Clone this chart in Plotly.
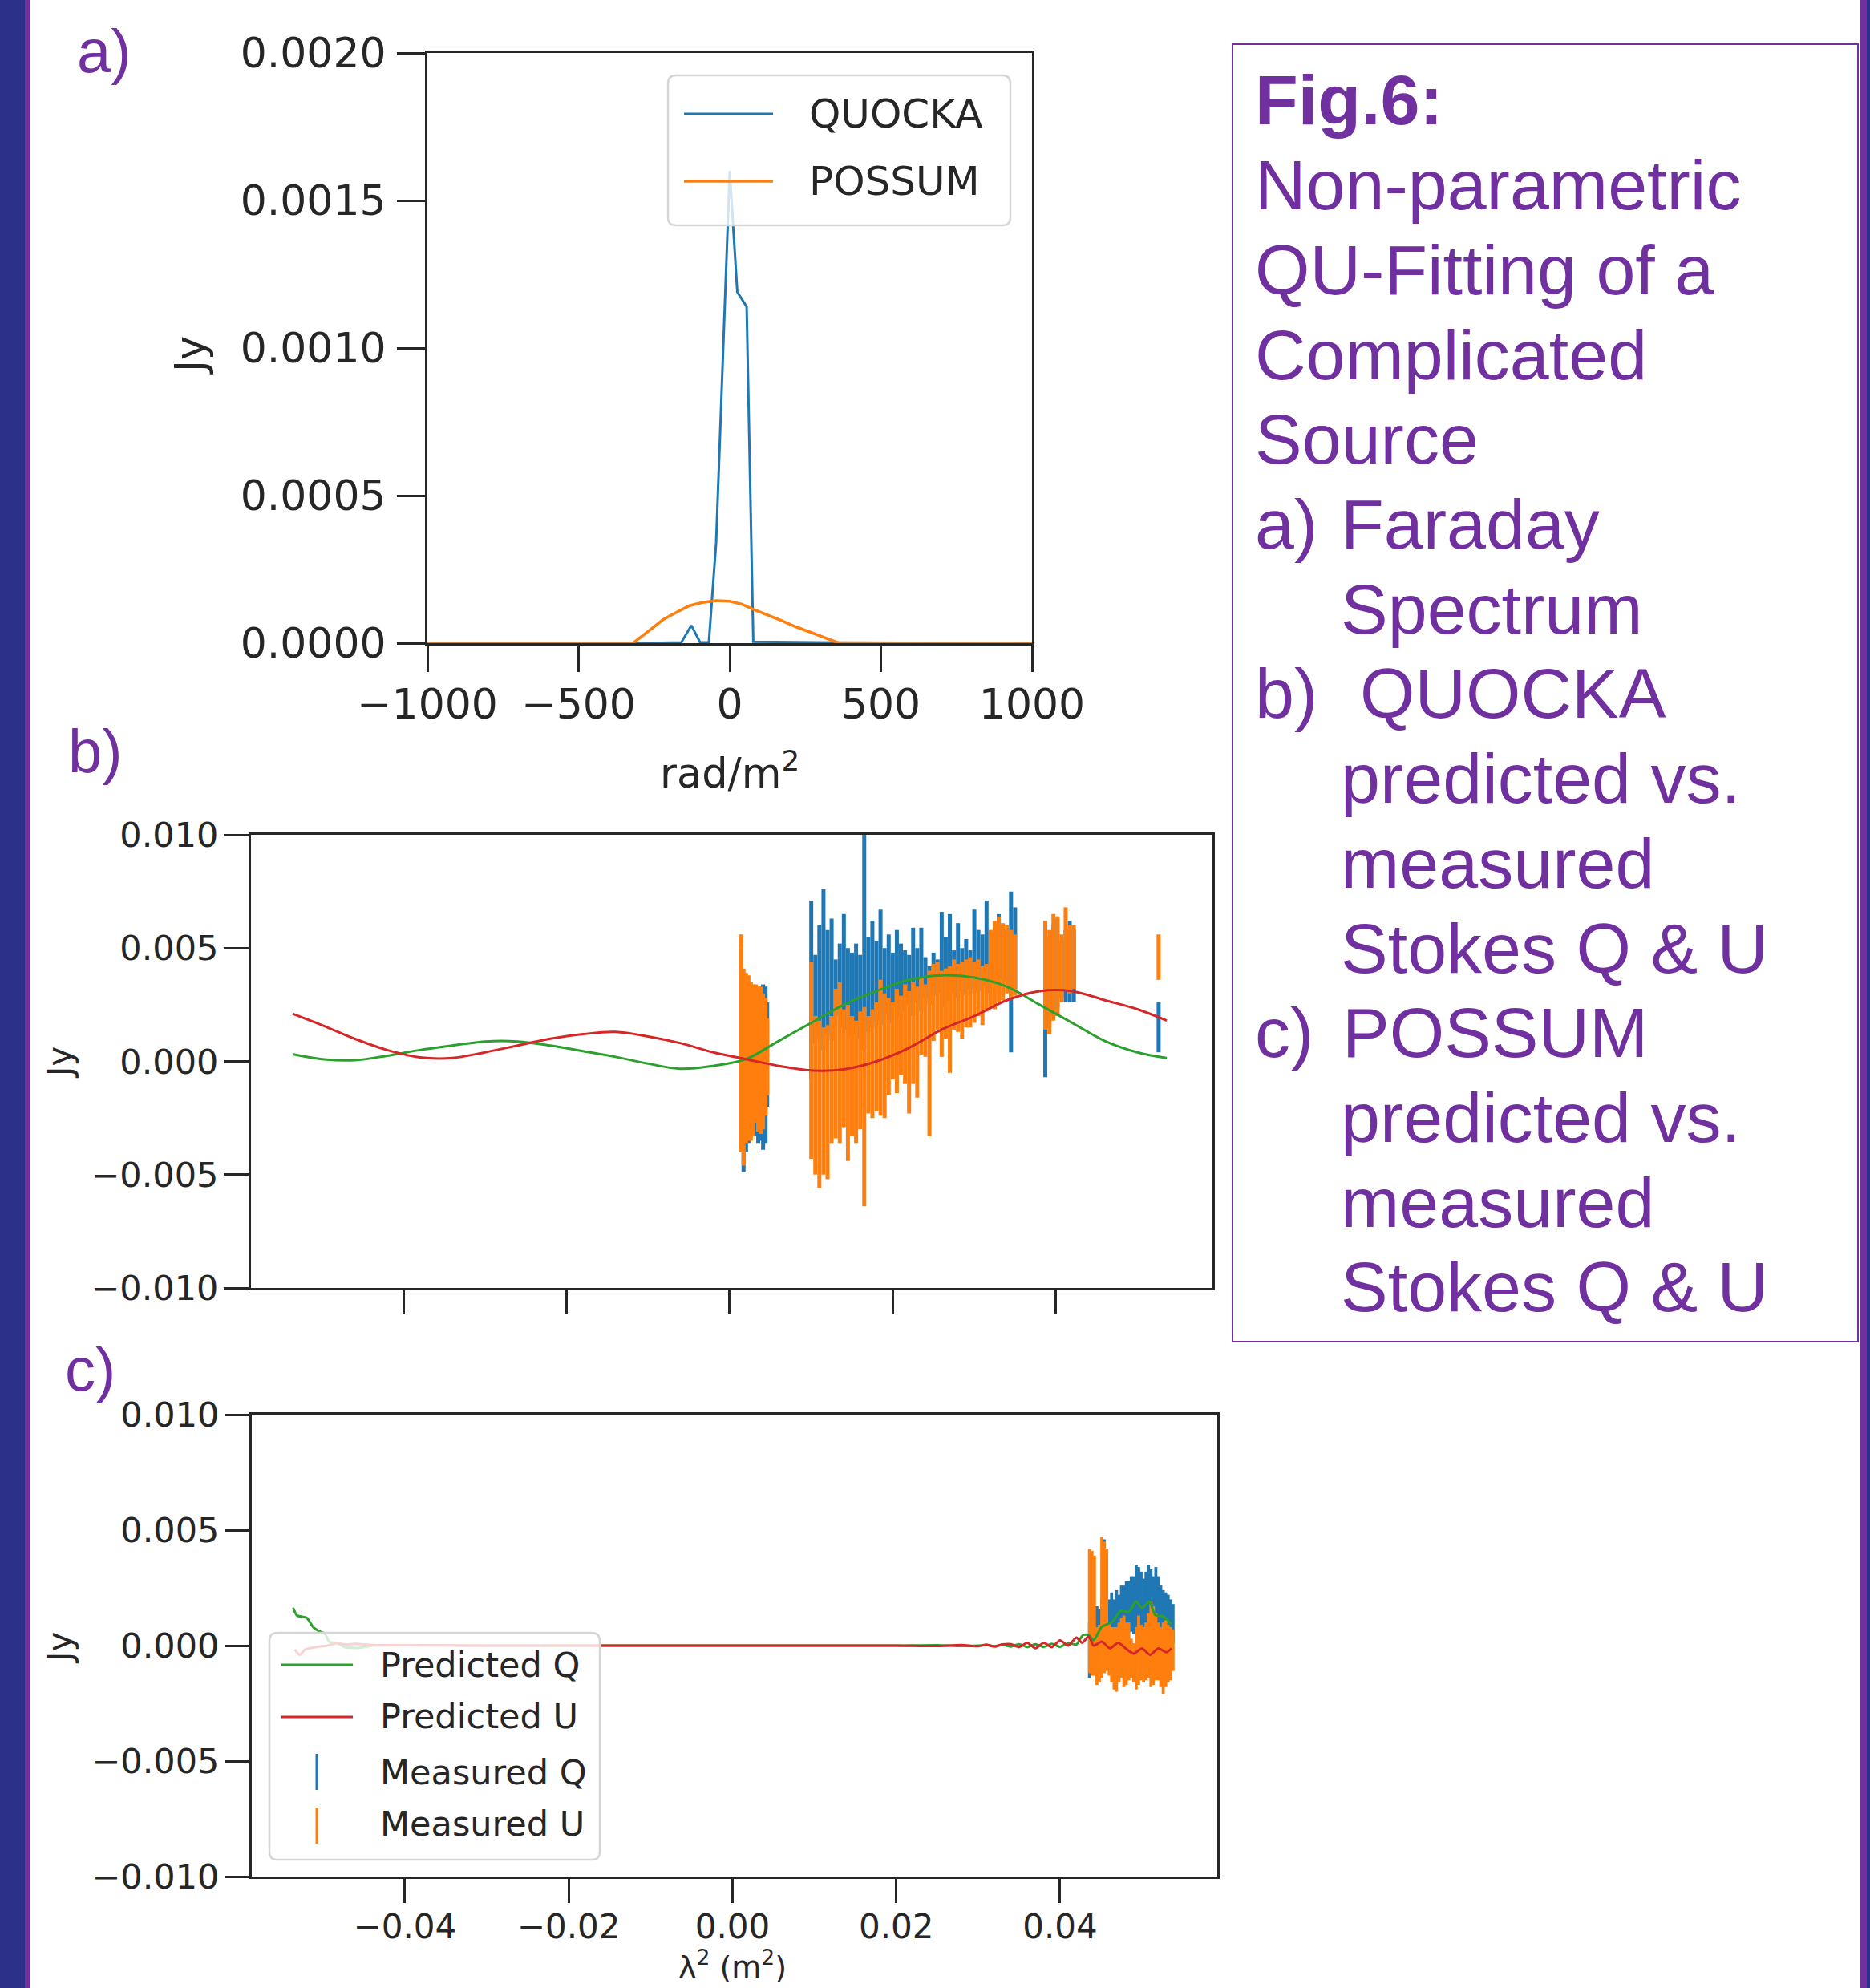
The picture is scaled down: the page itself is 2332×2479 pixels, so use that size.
import plotly.graph_objects as go

W, H = 2332, 2479

# ---------------- DATA ----------------
# Panel a: Faraday spectrum (rad/m^2 vs Jy)
phi_quocka = [-1000, -300, -160, -127, -98, -69, -45, 0, 25, 56, 78, 200, 370, 1000]
amp_quocka = [0, 0, 0.000003, 0.00006, 0.000003, 0.000003, 0.00034, 0.00160,
              0.00119, 0.00114, 0.000005, 0.000004, 0.000002, 0]
phi_possum = [-1000, -320, -270, -220, -170, -133, -90, -45, 0, 40, 80, 120,
              170, 220, 270, 320, 362, 1000]
amp_possum = [0, 0, 0.00004, 0.00008, 0.000108, 0.000127, 0.000138, 0.000144,
              0.000142, 0.000132, 0.000114, 0.000098, 0.000077, 0.000055,
              0.000035, 0.000015, 0, 0]

# Panel b: QUOCKA predicted model (lambda^2 in m^2, values in mJy)
lam2_model_b = [-0.0536, -0.050, -0.046, -0.042, -0.038, -0.034, -0.030, -0.026,
                -0.022, -0.018, -0.014, -0.010, -0.006, -0.002, 0.002, 0.006,
                0.010, 0.014, 0.018, 0.022, 0.026, 0.030, 0.034, 0.038, 0.042,
                0.046, 0.050, 0.0536]
pred_q_b = [0.32, 0.10, 0.05, 0.25, 0.50, 0.70, 0.88, 0.88, 0.70, 0.45, 0.20,
            -0.10, -0.33, -0.20, 0.10, 0.90, 1.70, 2.50, 3.10, 3.60, 3.80, 3.70,
            3.30, 2.50, 1.70, 0.90, 0.40, 0.15]
pred_u_b = [2.10, 1.60, 1.00, 0.50, 0.18, 0.15, 0.40, 0.70, 1.00, 1.20, 1.30,
            1.10, 0.80, 0.40, 0.10, -0.20, -0.40, -0.35, 0.00, 0.60, 1.40, 2.00,
            2.70, 3.10, 3.10, 2.70, 2.30, 1.80]

# Panel b: QUOCKA measured channels (lambda^2) and bar extents (mJy)
lam2_b = [0.0014, 0.0017, 0.0020, 0.0023, 0.0026, 0.0029, 0.0032, 0.0035, 0.0038,
          0.0041, 0.0044, 0.0046,
          0.0100, 0.0105, 0.0110, 0.0115, 0.0120, 0.0125, 0.0130, 0.0135, 0.0140,
          0.0145, 0.0150, 0.0155, 0.0160, 0.0165, 0.0170, 0.0175, 0.0180, 0.0185,
          0.0190, 0.0195, 0.0200, 0.0205, 0.0210, 0.0215, 0.0220, 0.0225, 0.0230,
          0.0235, 0.0240, 0.0245, 0.0250, 0.0255, 0.0260, 0.0265, 0.0270, 0.0275,
          0.0280, 0.0285, 0.0290, 0.0295, 0.0300, 0.0305, 0.0310, 0.0315, 0.0320,
          0.0325, 0.0330, 0.0335, 0.0340, 0.0345, 0.0350,
          0.0387, 0.0392, 0.0397, 0.0402, 0.0407, 0.0412, 0.0417, 0.0422,
          0.0526]
q_lo_b = [-4.0, -4.9, -4.0, -3.6, -3.3, -3.0, -3.3, -3.6, -3.5, -3.9, -3.6, -2.0,
          -0.8, 0.8, 1.0, 0.5, 1.2, 0.9, 2.0, 1.5, 1.4, 1.1, 1.6, 1.2, 1.0, 0.5,
          1.3, 1.5, 1.8, 1.6, 2.1, 1.7, 2.4, 2.0, 2.3, 2.2, 2.5, 2.0, 2.6, 2.2,
          2.8, 2.5, 2.9, 3.0, 2.4, 2.7, 2.5, 3.0, 2.8, 3.1, 2.9, 3.2, 3.0, 3.1,
          3.3, 3.0, 3.4, 3.5, 3.2, 3.6, 3.5, 0.4, 3.2,
          -0.7, 1.5, 2.0, 2.3, 2.8, 2.6, 2.6, 2.6,
          0.4]
q_hi_b = [5.0, 3.5, 3.6, 3.4, 3.2, 3.0, 3.1, 3.2, 3.3, 3.4, 3.3, 2.6,
          7.1, 4.7, 6.0, 7.6, 5.8, 6.3, 4.5, 5.2, 6.5, 5.0, 4.8, 5.2, 4.7, 11.0,
          5.5, 6.2, 5.3, 6.7, 5.0, 5.6, 4.8, 5.8, 5.2, 4.9, 4.7, 5.9, 5.0, 5.9,
          4.6, 4.2, 4.8, 4.5, 6.6, 5.5, 6.5, 4.9, 6.1, 5.0, 5.4, 4.9, 6.7, 5.8,
          5.6, 7.1, 5.7, 6.0, 6.5, 6.0, 5.8, 7.5, 6.8,
          6.0, 5.5, 6.0, 6.3, 5.3, 5.8, 6.2, 5.8,
          2.6]
u_lo_b = [-4.0, -4.6, -3.6, -3.5, -3.5, -3.3, -2.7, -3.1, -3.2, -3.0, -2.4, -1.5,
          -4.3, -5.0, -5.6, -5.0, -5.2, -3.6, -3.4, -3.6, -2.9, -4.4, -3.3, -3.6,
          -3.0, -6.4, -2.3, -2.5, -2.2, -2.4, -2.5, -1.5, -0.8, -1.4, -0.6, -1.0,
          -2.3, -1.0, -1.6, 0.3, 0.2, -3.3, 0.9, 1.4, 0.2, 1.0, -0.5, 1.4, 1.3,
          1.0, 1.5, 1.5, 1.7, 2.0, 1.6, 2.2, 2.4, 2.3, 2.6, 2.7, 3.0, 2.8, 2.9,
          1.4, 1.2, 1.8, 2.0, 2.6, 3.1, 3.0, 3.2,
          3.6]
u_hi_b = [5.6, 4.1, 3.9, 3.8, 3.5, 3.4, 3.4, 3.3, 3.3, 3.0, 2.8, 1.9,
          4.4, 2.0, 1.8, 1.5, 1.6, 2.0, 3.2, 3.5, 2.3, 2.5, 2.0, 1.8, 2.2, 2.4,
          2.0, 2.3, 2.6, 3.6, 3.0, 2.8, 2.6, 3.2, 2.9, 3.4, 3.1, 3.5, 3.3, 3.7,
          3.4, 4.0, 4.3, 4.4, 4.0, 4.1, 4.2, 4.5, 4.3, 4.4, 4.5, 4.6, 4.4, 4.5,
          4.2, 4.3, 5.8, 6.2, 6.4, 6.1, 6.0, 5.8, 5.6,
          6.2, 5.8, 6.5, 6.4, 5.6, 6.8, 6.0, 6.0,
          5.6]

# Panel c: POSSUM predicted model (mJy)
lam2_pred_q_c = [-0.05365, -0.05316, -0.05198, -0.0512, -0.05051, -0.04973,
                 -0.04924, -0.04826, -0.04728, -0.04562, -0.044, -0.040, -0.030,
                 -0.020, -0.010, 0.000, 0.010, 0.020, 0.025, 0.028, 0.030, 0.031,
                 0.032, 0.033, 0.034, 0.035, 0.036, 0.037, 0.038, 0.039, 0.040,
                 0.041, 0.042, 0.0428, 0.0435, 0.0441, 0.0451, 0.0464, 0.0474,
                 0.0484, 0.0493, 0.0500, 0.0509, 0.0516, 0.0526, 0.0536]
pred_q_c = [1.63, 1.30, 1.20, 0.80, 0.63, 0.50, 0.17, 0.10, -0.07, -0.10, 0.00,
            0.02, 0.00, 0.00, 0.00, 0.00, 0.00, 0.00, 0.02, -0.02, 0.00, 0.03,
            -0.03, 0.04, -0.04, 0.06, -0.06, 0.06, -0.06, 0.08, -0.05, 0.10, 0.05,
            0.46, 0.46, 0.23, 0.81, 1.04, 1.50, 1.45, 1.91, 1.62, 1.91, 1.33,
            1.27, 0.93]
lam2_pred_u_c = [-0.05345, -0.05286, -0.05218, -0.0509, -0.04953, -0.04826,
                 -0.04728, -0.046, -0.044, -0.040, -0.030, -0.020, -0.010, 0.000,
                 0.010, 0.020, 0.025, 0.028, 0.030, 0.031, 0.032, 0.033, 0.034,
                 0.035, 0.036, 0.037, 0.038, 0.039, 0.040, 0.041, 0.042, 0.0427,
                 0.0435, 0.0441, 0.0451, 0.0461, 0.0471, 0.048, 0.049, 0.050,
                 0.051, 0.052, 0.053, 0.0536]
pred_u_c = [-0.17, -0.40, -0.17, -0.07, 0.00, 0.10, 0.05, 0.08, 0.03, 0.02, 0.00,
            0.00, 0.00, 0.00, 0.00, 0.00, -0.02, 0.03, -0.03, 0.04, -0.04, 0.05,
            0.06, -0.06, 0.12, -0.12, 0.12, -0.06, 0.23, 0.00, 0.35, 0.12, 0.41,
            0.00, 0.17, -0.12, 0.12, -0.12, -0.35, -0.12, -0.40, -0.12, -0.29,
            -0.12]

# Panel c: POSSUM measured channels and bar extents (mJy)
lam2_c = [0.0436, 0.0439, 0.0442, 0.0445, 0.0448, 0.0451, 0.0454, 0.0457, 0.0460,
          0.0463, 0.0466, 0.0469, 0.0472, 0.0475, 0.0478, 0.0481, 0.0484, 0.0487,
          0.0490, 0.0493, 0.0496, 0.0499, 0.0502, 0.0505, 0.0508, 0.0511, 0.0514,
          0.0517, 0.0520, 0.0523, 0.0526, 0.0529, 0.0532, 0.0535, 0.0538]
q_lo_c = [-1.4, -1.0, -1.0, -0.5, -0.3, 0.0, 0.5, 0.3, 0.2, 0.3, 0.2, 0.4, 0.3,
          0.5, 0.6, 0.5, 0.7, 0.6, 0.5, 0.8, 0.7, 0.6, 0.6, 0.5, 0.7, 0.6, 0.5,
          0.6, 0.4, 0.4, 0.3, 0.3, 0.2, 0.2, 0.1]
q_hi_c = [1.0, 1.5, 1.7, 1.7, 1.6, 2.0, 4.6, 4.0, 2.0, 2.3, 2.0, 2.4, 2.2, 2.6,
          2.6, 2.8, 2.8, 3.0, 3.0, 3.5, 3.4, 3.2, 2.9, 3.2, 3.5, 3.3, 3.0, 3.4,
          3.0, 2.6, 2.4, 2.3, 2.2, 2.0, 1.8]
u_lo_c = [-1.2, -1.3, -1.3, -1.7, -1.6, -1.4, -1.2, -1.1, -1.3, -1.6, -1.9, -2.0,
          -1.6, -1.4, -1.8, -1.7, -1.5, -1.4, -1.6, -1.9, -1.7, -1.5, -1.6, -1.5,
          -1.4, -1.8, -1.7, -1.5, -1.5, -1.8, -2.1, -1.8, -1.6, -1.5, -1.1]
u_hi_c = [4.2, 4.1, 3.9, 0.8, 0.9, 4.7, 4.5, 4.2, 1.0, 0.8, 0.8, 0.8, 1.0, 1.2,
          1.3, 1.0, 1.0, 0.3, 0.1, 0.8, 1.3, 0.9, 0.8, 1.0, 1.4, 1.9, 1.7, 1.4,
          1.0, 0.8, 1.0, 1.1, 0.9, 0.8, 0.7]

# Tick labels
a_xticks = [-1000, -500, 0, 500, 1000]
a_xlabels = ["\u22121000", "\u2212500", "0", "500", "1000"]
a_yticks = [0, 0.0005, 0.0010, 0.0015, 0.0020]
a_ylabels = ["0.0000", "0.0005", "0.0010", "0.0015", "0.0020"]
bc_yticks = [-0.010, -0.005, 0.0, 0.005, 0.010]
bc_ylabels = ["\u22120.010", "\u22120.005", "0.000", "0.005", "0.010"]
bc_xticks = [-0.04, -0.02, 0.0, 0.02, 0.04]
bc_xlabels = ["\u22120.04", "\u22120.02", "0.00", "0.02", "0.04"]

caption_lines = [
    ("", "<b>Fig.6:</b>"),
    ("", "Non-parametric"),
    ("", "QU-Fitting of a"),
    ("", "Complicated"),
    ("", "Source"),
    ("a)", "Faraday"),
    ("", "Spectrum"),
    ("b)", "QUOCKA"),
    ("", "predicted vs."),
    ("", "measured"),
    ("", "Stokes Q &amp; U"),
    ("c)", "POSSUM"),
    ("", "predicted vs."),
    ("", "measured"),
    ("", "Stokes Q &amp; U"),
]

# ---------------- STYLE ----------------
BLUE, ORANGE, GREEN, RED = "#1f77b4", "#ff7f0e", "#2ca02c", "#d62728"
PURPLE = "#7030A0"
INK = "#262626"
MPL_FONT = "DejaVu Sans"
ARIAL = "Liberation Sans, Arial, sans-serif"


def fx(x):
    return x / W


def fy(y):
    return 1 - y / H


def mjy(v):
    return [a * 1e-3 for a in v]


def bar_parts(lo, hi):
    lo, hi = mjy(lo), mjy(hi)
    c = [(a + b) / 2 for a, b in zip(lo, hi)]
    return c, [b - m for b, m in zip(hi, c)], [m - a for a, m in zip(lo, c)]


fig = go.Figure()

# Panel a
fig.add_trace(go.Scatter(x=phi_quocka, y=amp_quocka, mode="lines", name="QUOCKA",
                         line=dict(color=BLUE, width=3), xaxis="x", yaxis="y"))
fig.add_trace(go.Scatter(x=phi_possum, y=amp_possum, mode="lines", name="POSSUM",
                         line=dict(color=ORANGE, width=3.5), xaxis="x", yaxis="y"))


def add_bars(xv, lo, hi, color, name, xa, ya, thick):
    c, plus, minus = bar_parts(lo, hi)
    fig.add_trace(go.Scatter(
        x=xv, y=c, mode="markers", name=name, xaxis=xa, yaxis=ya,
        marker=dict(size=1, color="rgba(0,0,0,0)"),
        error_y=dict(type="data", symmetric=False, array=plus, arrayminus=minus,
                     color=color, thickness=thick, width=0)))


# Panel b
add_bars(lam2_b, q_lo_b, q_hi_b, BLUE, "Measured Q", "x2", "y2", 5)
add_bars(lam2_b, u_lo_b, u_hi_b, ORANGE, "Measured U", "x2", "y2", 5)
fig.add_trace(go.Scatter(x=lam2_model_b, y=mjy(pred_q_b), mode="lines", name="Predicted Q",
                         line=dict(color=GREEN, width=3, shape="spline", smoothing=1.0),
                         xaxis="x2", yaxis="y2"))
fig.add_trace(go.Scatter(x=lam2_model_b, y=mjy(pred_u_b), mode="lines", name="Predicted U",
                         line=dict(color=RED, width=3, shape="spline", smoothing=1.0),
                         xaxis="x2", yaxis="y2"))

# Panel c
add_bars(lam2_c, q_lo_c, q_hi_c, BLUE, "Measured Q", "x3", "y3", 3.8)
add_bars(lam2_c, u_lo_c, u_hi_c, ORANGE, "Measured U", "x3", "y3", 3.8)
fig.add_trace(go.Scatter(x=lam2_pred_q_c, y=mjy(pred_q_c), mode="lines", name="Predicted Q",
                         line=dict(color=GREEN, width=3, shape="spline", smoothing=0.6),
                         xaxis="x3", yaxis="y3"))
fig.add_trace(go.Scatter(x=lam2_pred_u_c, y=mjy(pred_u_c), mode="lines", name="Predicted U",
                         line=dict(color=RED, width=3, shape="spline", smoothing=0.6),
                         xaxis="x3", yaxis="y3"))

axis_common = dict(showline=True, linecolor=INK, linewidth=3, mirror=True,
                   ticks="outside", tickwidth=3, tickcolor=INK, showgrid=False,
                   zeroline=False, tickmode="array", automargin=False)

fig.update_layout(
    width=W, height=H, margin=dict(l=0, r=0, t=0, b=0, pad=0, autoexpand=False),
    paper_bgcolor="white", plot_bgcolor="white", showlegend=False,
    xaxis=dict(domain=[fx(533), fx(1287)], anchor="y", range=[-1000, 1000],
               tickvals=a_xticks, ticktext=a_xlabels, ticklen=33,
               tickfont=dict(family=MPL_FONT, size=52, color=INK),
               ticklabelstandoff=-4, layer="below traces", **axis_common),
    yaxis=dict(domain=[fy(802), fy(66)], anchor="x", range=[0, 0.002],
               tickvals=a_yticks, ticktext=a_ylabels, ticklen=35,
               tickfont=dict(family=MPL_FONT, size=52, color=INK),
               ticklabelstandoff=3, **axis_common),
    xaxis2=dict(domain=[fx(313), fx(1512)], anchor="y2", range=[-0.0587, 0.0592],
                tickvals=bc_xticks, showticklabels=False,
                ticklen=30, **axis_common),
    yaxis2=dict(domain=[fy(1606), fy(1041)], anchor="x2", range=[-0.01, 0.01],
                tickvals=bc_yticks, ticktext=bc_ylabels, ticklen=31,
                tickfont=dict(family=MPL_FONT, size=43, color=INK),
                ticklabelstandoff=-2, **axis_common),
    xaxis3=dict(domain=[fx(314), fx(1518)], anchor="y3", range=[-0.0587, 0.0592],
                tickvals=bc_xticks, ticktext=bc_xlabels, ticklen=30,
                tickfont=dict(family=MPL_FONT, size=42, color=INK),
                ticklabelstandoff=-6, **axis_common),
    yaxis3=dict(domain=[fy(2340), fy(1764)], anchor="x3", range=[-0.01, 0.01],
                tickvals=bc_yticks, ticktext=bc_ylabels, ticklen=31,
                tickfont=dict(family=MPL_FONT, size=43, color=INK),
                ticklabelstandoff=-2, **axis_common),
)

shapes = []
annotations = []


def rect(x0, y0, x1, y1, fill, line=None, lw=0, layer="above"):
    shapes.append(dict(type="rect", xref="paper", yref="paper",
                       x0=fx(x0), x1=fx(x1), y0=fy(y1), y1=fy(y0),
                       fillcolor=fill, line=dict(color=line or fill, width=lw),
                       layer=layer))


def rounded_box(x0, y0, x1, y1, r):
    p = (f"M {fx(x0 + r)} {fy(y0)} L {fx(x1 - r)} {fy(y0)} "
         f"Q {fx(x1)} {fy(y0)} {fx(x1)} {fy(y0 + r)} L {fx(x1)} {fy(y1 - r)} "
         f"Q {fx(x1)} {fy(y1)} {fx(x1 - r)} {fy(y1)} L {fx(x0 + r)} {fy(y1)} "
         f"Q {fx(x0)} {fy(y1)} {fx(x0)} {fy(y1 - r)} L {fx(x0)} {fy(y0 + r)} "
         f"Q {fx(x0)} {fy(y0)} {fx(x0 + r)} {fy(y0)} Z")
    shapes.append(dict(type="path", xref="paper", yref="paper", path=p,
                       fillcolor="rgba(255,255,255,0.8)",
                       line=dict(color="#d6d6d6", width=2.5), layer="above"))


def seg(x0, y0, x1, y1, color, w=3):
    shapes.append(dict(type="line", xref="paper", yref="paper",
                       x0=fx(x0), x1=fx(x1), y0=fy(y0), y1=fy(y1),
                       line=dict(color=color, width=w), layer="above"))


def text(x, y, s, size, color=INK, family=MPL_FONT, xanchor="left",
         yanchor="middle", angle=0):
    annotations.append(dict(xref="paper", yref="paper", x=fx(x), y=fy(y), text=s,
                            showarrow=False, xanchor=xanchor, yanchor=yanchor,
                            textangle=angle,
                            font=dict(family=family, size=size, color=color)))


# Background side strips
rect(0, 0, 31, H, "#2c3088")
rect(31, 0, 38, H, PURPLE)
rect(2320, 0, 2328, H, PURPLE)
rect(2328, 0, W, H, "#2c3088")

# Caption box
shapes.append(dict(type="rect", xref="paper", yref="paper", x0=fx(1537), x1=fx(2317),
                   y0=fy(1673), y1=fy(55), line=dict(color=PURPLE, width=2),
                   fillcolor="rgba(0,0,0,0)", layer="above"))
indent_x = {"a)": 1670, "b)": 1694, "c)": 1672}
for i, (lab, body) in enumerate(caption_lines):
    yc = 125 + 105.7 * i
    if lab:
        text(1563, yc, lab, 88, PURPLE, ARIAL)
        text(indent_x[lab], yc, body, 88, PURPLE, ARIAL)
    elif i <= 4:
        text(1563, yc, body, 88, PURPLE, ARIAL)
    else:
        text(1670, yc, body, 88, PURPLE, ARIAL)

# Panel labels
text(94, 63, "a)", 76, PURPLE, ARIAL)
text(83, 936, "b)", 76, PURPLE, ARIAL)
text(79, 1707, "c)", 76, PURPLE, ARIAL)

# Axis titles
text(238, 443, "Jy", 51, xanchor="center", angle=-90)
text(910, 961, "rad/m<sup>2</sup>", 51, xanchor="center")
text(74, 1325, "Jy", 42, xanchor="center", angle=-90)
text(74, 2055, "Jy", 42, xanchor="center", angle=-90)
text(913, 2477, "\u03bb<sup>2</sup> (m<sup>2</sup>)", 38, xanchor="center", yanchor="bottom")

# Legend panel a
rounded_box(833, 94, 1260, 281, 10)
seg(853, 142, 964, 142, BLUE, 3)
seg(853, 226, 964, 226, ORANGE, 3.5)
text(1007, 142, "QUOCKA", 50)
text(1007, 226, "POSSUM", 50)

# Legend panel c
rounded_box(336, 2036, 748, 2319, 10)
seg(351, 2076, 440, 2076, GREEN, 3)
seg(351, 2141, 440, 2141, RED, 3)
seg(395, 2187, 395, 2232, BLUE, 3)
seg(395, 2254, 395, 2299, ORANGE, 3)
text(472, 2076, "Predicted Q", 43)
text(472, 2140, "Predicted U", 43)
text(472, 2210, "Measured Q", 43)
text(472, 2274, "Measured U", 43)

fig.update_layout(shapes=shapes, annotations=annotations)

fig.write_html("out.html", config={"displayModeBar": False},
               post_script="document.body.style.margin='0';document.body.style.overflow='hidden';")
